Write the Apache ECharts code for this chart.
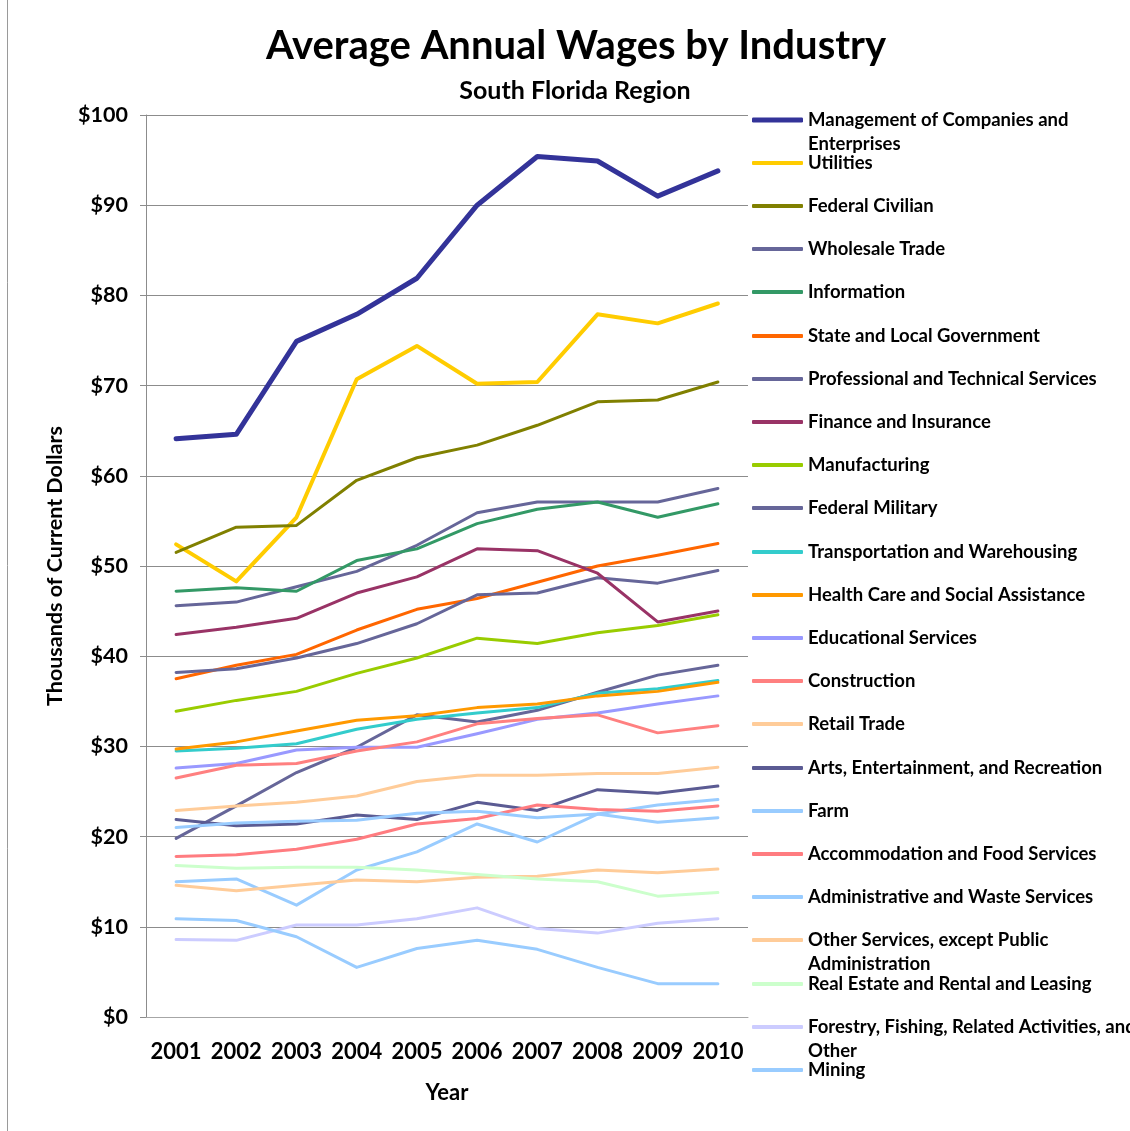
<!DOCTYPE html>
<html>
<head>
<meta charset="utf-8">
<script src="https://cdn.jsdelivr.net/npm/echarts@6/dist/echarts.min.js"></script>
<style>html,body{margin:0;padding:0;background:#fff;}#c{width:1130px;height:1131px;}</style>
</head>
<body>
<div id="c"></div>
<script>
const years = ['2001','2002','2003','2004','2005','2006','2007','2008','2009','2010'];
const yTicks = [0,10,20,30,40,50,60,70,80,90,100];

const management     = [64.1, 64.6, 74.9, 77.9, 81.9, 90.0, 95.4, 94.9, 91.0, 93.8];
const utilities      = [52.4, 48.3, 55.4, 70.7, 74.4, 70.2, 70.4, 77.9, 76.9, 79.1];
const fedCivilian    = [51.5, 54.3, 54.5, 59.5, 62.0, 63.4, 65.6, 68.2, 68.4, 70.4];
const wholesale      = [45.6, 46.0, 47.7, 49.4, 52.3, 55.9, 57.1, 57.1, 57.1, 58.6];
const information    = [47.2, 47.6, 47.2, 50.6, 51.9, 54.7, 56.3, 57.1, 55.4, 56.9];
const stateLocal     = [37.5, 39.0, 40.2, 42.9, 45.2, 46.4, 48.2, 50.0, 51.2, 52.5];
const professional   = [38.2, 38.6, 39.8, 41.4, 43.6, 46.8, 47.0, 48.7, 48.1, 49.5];
const finance        = [42.4, 43.2, 44.2, 47.0, 48.8, 51.9, 51.7, 49.2, 43.8, 45.0];
const manufacturing  = [33.9, 35.1, 36.1, 38.1, 39.8, 42.0, 41.4, 42.6, 43.4, 44.6];
const fedMilitary    = [19.8, 23.4, 27.1, 29.9, 33.5, 32.7, 34.0, 36.0, 37.9, 39.0];
const transportation = [29.5, 29.8, 30.3, 31.9, 33.0, 33.7, 34.3, 35.9, 36.4, 37.3];
const healthCare     = [29.7, 30.5, 31.7, 32.9, 33.4, 34.3, 34.7, 35.6, 36.1, 37.1];
const educational    = [27.6, 28.1, 29.6, 29.9, 29.9, 31.4, 33.0, 33.7, 34.7, 35.6];
const construction   = [26.5, 27.9, 28.1, 29.5, 30.5, 32.5, 33.1, 33.5, 31.5, 32.3];
const retail         = [22.9, 23.4, 23.8, 24.5, 26.1, 26.8, 26.8, 27.0, 27.0, 27.7];
const arts           = [21.9, 21.2, 21.4, 22.4, 21.9, 23.8, 22.9, 25.2, 24.8, 25.6];
const farm           = [15.0, 15.3, 12.4, 16.3, 18.3, 21.4, 19.4, 22.5, 23.5, 24.1];
const accommodation  = [17.8, 18.0, 18.6, 19.7, 21.4, 22.0, 23.5, 23.0, 22.8, 23.4];
const admin          = [21.0, 21.5, 21.7, 21.8, 22.6, 22.8, 22.1, 22.5, 21.6, 22.1];
const otherServices  = [14.6, 14.0, 14.6, 15.2, 15.0, 15.5, 15.6, 16.3, 16.0, 16.4];
const realEstate     = [16.8, 16.5, 16.6, 16.6, 16.3, 15.8, 15.3, 15.0, 13.4, 13.8];
const forestry       = [8.6, 8.5, 10.2, 10.2, 10.9, 12.1, 9.8, 9.3, 10.4, 10.9];
const mining         = [10.9, 10.7, 8.9, 5.5, 7.6, 8.5, 7.5, 5.5, 3.7, 3.7];

const seriesNames = [
  'Management of Companies and Enterprises','Utilities','Federal Civilian','Wholesale Trade',
  'Information','State and Local Government','Professional and Technical Services',
  'Finance and Insurance','Manufacturing','Federal Military','Transportation and Warehousing',
  'Health Care and Social Assistance','Educational Services','Construction','Retail Trade',
  'Arts, Entertainment, and Recreation','Farm','Accommodation and Food Services',
  'Administrative and Waste Services','Other Services, except Public Administration',
  'Real Estate and Rental and Leasing','Forestry, Fishing, Related Activities, and Other','Mining'
];
const seriesValues = [management, utilities, fedCivilian, wholesale, information, stateLocal,
  professional, finance, manufacturing, fedMilitary, transportation, healthCare, educational,
  construction, retail, arts, farm, accommodation, admin, otherServices, realEstate, forestry, mining];
const seriesColors = ['#333399','#FFCC00','#808000','#666699','#339966','#FF6600','#666699',
  '#993366','#99CC00','#666699','#33CCCC','#FF9900','#9999FF','#FF8080','#FFCC99','#5B5B93',
  '#99CCFF','#FF7C80','#99CCFF','#FFCC99','#CCFFCC','#CCCCFF','#99CCFF'];
const legendLabels = {
  'Management of Companies and Enterprises': ['Management of Companies and', 'Enterprises'],
  'Other Services, except Public Administration': ['Other Services, except Public', 'Administration'],
  'Forestry, Fishing, Related Activities, and Other': ['Forestry, Fishing, Related Activities, and', 'Other']
};

const FONT = 'Lato, "Liberation Sans", sans-serif';
const chart = echarts.init(document.getElementById('c'), null, {renderer: 'canvas'});

const LH = 25;
const legendCenter = i => 118 + i * 43.2;
const legends = seriesNames.map((n, i) => ({
  show: true,
  type: 'plain',
  data: [{ name: n }],
  orient: 'vertical',
  left: 752,
  top: Math.round(legendCenter(i) - LH / 2),
  icon: 'roundRect',
  itemWidth: 51,
  itemHeight: i === 0 ? 5 : 4,
  itemGap: 5,
  padding: 0,
  formatter: nm => legendLabels[nm] ? legendLabels[nm][0] : nm,
  textStyle: { fontFamily: FONT, fontWeight: 'bold', fontSize: 18.5, color: '#000', lineHeight: LH,
    padding: [3, 0, 0, 0] }
}));
const continuationTexts = [];
seriesNames.forEach((n, i) => {
  if (legendLabels[n]) {
    continuationTexts.push({
      type: 'text', left: 808, top: Math.round(legendCenter(i) + LH / 2 + 4),
      style: { text: legendLabels[n][1], font: 'bold 18.5px ' + FONT, fill: '#000' }
    });
  }
});

const option = {
  backgroundColor: '#fff',
  animation: false,
  title: [
    { text: 'Average Annual Wages by Industry', left: 571, top: 21, textAlign: 'center',
      textStyle: { fontFamily: FONT, fontWeight: 'bold', fontSize: 40, color: '#000' } },
    { text: 'South Florida Region', left: 570, top: 73, textAlign: 'center',
      textStyle: { fontFamily: FONT, fontWeight: 'bold', fontSize: 25, color: '#000' } }
  ],
  legend: legends,
  grid: { left: 146, right: 382, top: 115, bottom: 114, containLabel: false, outerBoundsMode: 'none' },
  xAxis: {
    type: 'category', data: years, boundaryGap: true,
    name: 'Year', nameLocation: 'middle', nameGap: 65,
    nameTextStyle: { fontFamily: FONT, fontWeight: 'bold', fontSize: 22, color: '#000' },
    axisLine: { show: true, lineStyle: { color: '#A6A6A6', width: 1 } },
    axisTick: { show: false },
    axisLabel: { interval: 0, hideOverlap: false, margin: 24, fontFamily: FONT, fontWeight: 'bold', fontSize: 22, color: '#000' },
    splitLine: { show: false }
  },
  yAxis: {
    type: 'value', min: yTicks[0], max: yTicks[yTicks.length - 1], interval: 10,
    name: 'Thousands of Current Dollars', nameLocation: 'middle', nameGap: 80, nameRotate: 90,
    nameTextStyle: { fontFamily: FONT, fontWeight: 'bold', fontSize: 21.5, color: '#000' },
    axisLine: { show: true, lineStyle: { color: '#8C8C8C', width: 1 } },
    axisTick: { show: true, inside: false, length: 6, lineStyle: { color: '#8C8C8C' } },
    axisLabel: { margin: 18, formatter: v => '$' + v, fontFamily: FONT, fontWeight: 'bold', fontSize: 21.5, color: '#000' },
    splitLine: { show: true, lineStyle: { color: '#8C8C8C', width: 1 } }
  },
  graphic: [
    { type: 'line', shape: { x1: 7.5, y1: 0, x2: 7.5, y2: 1131 }, style: { stroke: '#9A9A9A', lineWidth: 1 } }
  ].concat(continuationTexts),
  series: seriesNames.map((n, i) => ({
    name: n, type: 'line', data: seriesValues[i],
    symbol: 'none', showSymbol: false, smooth: false,
    color: seriesColors[i],
    lineStyle: { color: seriesColors[i], width: i === 0 ? 5 : (i === 1 ? 4 : 3), cap: 'round', join: 'round' }
  }))
};
chart.setOption(option);
</script>
</body>
</html>
